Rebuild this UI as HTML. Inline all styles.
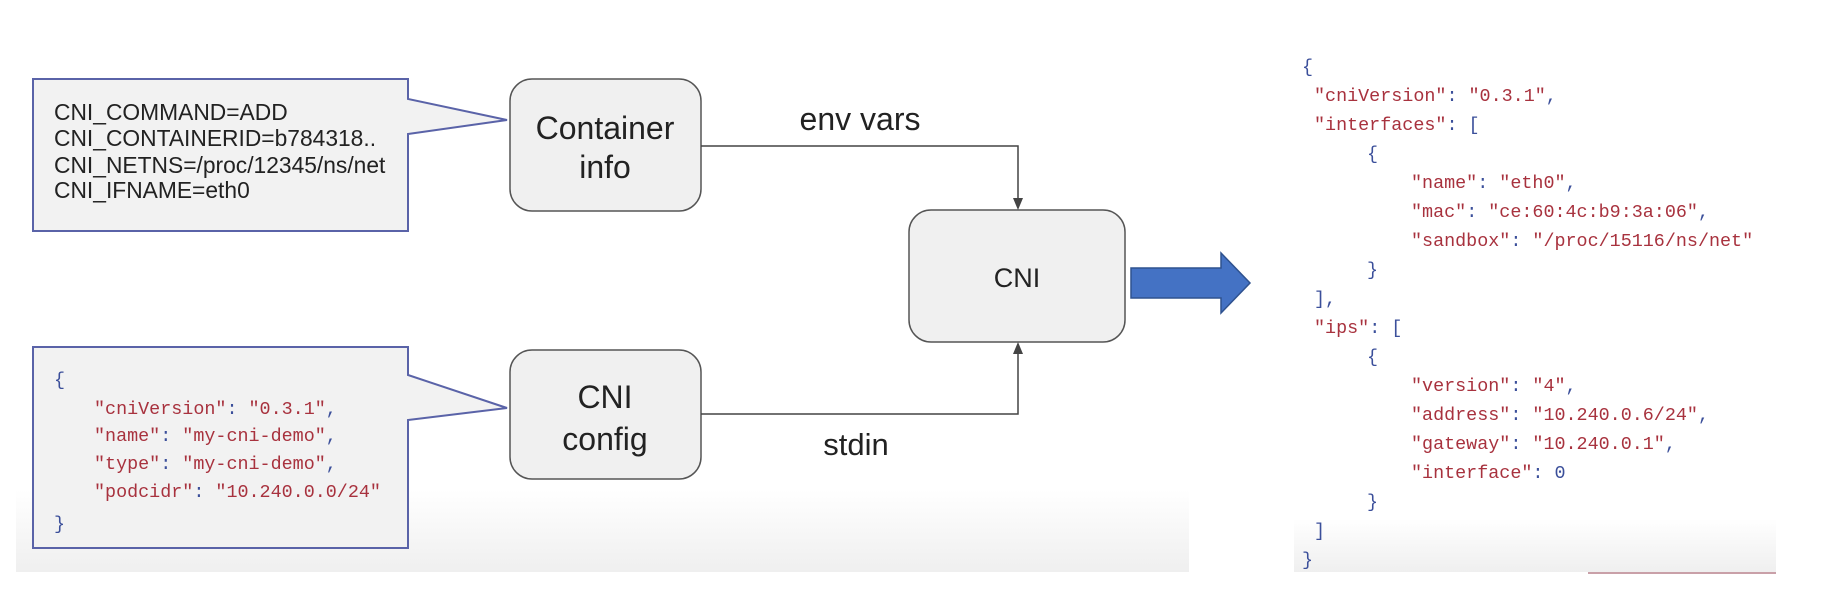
<!DOCTYPE html>
<html><head><meta charset="utf-8"><style>
html,body{margin:0;padding:0;background:#fff;}
svg{display:block;}
.s{font-family:"Liberation Sans",sans-serif;fill:#222;}
.m{font-family:"Liberation Mono",monospace;}
.k{fill:#a8323e;}
.b{fill:#3b4f9a;}
</style></head><body>
<svg width="1828" height="608" viewBox="0 0 1828 608" xmlns="http://www.w3.org/2000/svg">
<defs>
<linearGradient id="g1" x1="0" y1="0" x2="0" y2="1"><stop offset="0" stop-color="#fff"/><stop offset="1" stop-color="#efefef"/></linearGradient>
</defs>
<rect x="16" y="490" width="1173" height="82" fill="url(#g1)"/>
<rect x="1294" y="519" width="482" height="53" fill="url(#g1)"/>
<line x1="1588" y1="573" x2="1776" y2="573" stroke="#c9a0a8" stroke-width="2"/>

<path d="M33,79 H408 V99 L507,120 L408,134 V231 H33 Z" fill="#f2f2f2" stroke="#5a63a8" stroke-width="2"/>
<g class="s" font-size="22.8">
<text x="54" y="120">CNI_COMMAND=ADD</text>
<text x="54" y="146">CNI_CONTAINERID=b784318..</text>
<text x="54" y="173">CNI_NETNS=/proc/12345/ns/net</text>
<text x="54" y="198">CNI_IFNAME=eth0</text>
</g>

<path d="M33,347 H408 V375 L507,408 L408,420 V548 H33 Z" fill="#f2f2f2" stroke="#5a63a8" stroke-width="2"/>
<g class="m" font-size="18.4">
<text x="54" y="385" class="b">{</text>
<text x="94" y="414"><tspan class="k">"cniVersion"</tspan><tspan class="b">: </tspan><tspan class="k">"0.3.1"</tspan><tspan class="b">,</tspan></text>
<text x="94" y="441"><tspan class="k">"name"</tspan><tspan class="b">: </tspan><tspan class="k">"my-cni-demo"</tspan><tspan class="b">,</tspan></text>
<text x="94" y="469"><tspan class="k">"type"</tspan><tspan class="b">: </tspan><tspan class="k">"my-cni-demo"</tspan><tspan class="b">,</tspan></text>
<text x="94" y="497"><tspan class="k">"podcidr"</tspan><tspan class="b">: </tspan><tspan class="k">"10.240.0.0/24"</tspan></text>
<text x="54" y="529" class="b">}</text>
</g>

<rect x="510" y="79" width="191" height="132" rx="22" fill="#f0f0f0" stroke="#555" stroke-width="1.5"/>
<rect x="510" y="350" width="191" height="129" rx="22" fill="#f0f0f0" stroke="#555" stroke-width="1.5"/>
<rect x="909" y="210" width="216" height="132" rx="22" fill="#f0f0f0" stroke="#555" stroke-width="1.5"/>
<g class="s" font-size="32" text-anchor="middle">
<text x="605" y="139">Container</text>
<text x="605" y="178">info</text>
<text x="605" y="408">CNI</text>
<text x="605" y="450">config</text>
<text x="1017" y="287" font-size="27">CNI</text>
<text x="860" y="130">env vars</text>
<text x="856" y="455" font-size="31">stdin</text>
</g>

<path d="M701,146 H1018 V200" fill="none" stroke="#444" stroke-width="1.5"/>
<path d="M1013,198 L1023,198 L1018,210 Z" fill="#444"/>
<path d="M701,414 H1018 V352" fill="none" stroke="#444" stroke-width="1.5"/>
<path d="M1013,354 L1023,354 L1018,342 Z" fill="#444"/>

<path d="M1131,268 H1221 V253 L1250,283 L1221,313 V298 H1131 Z" fill="#4472c4" stroke="#2f528f" stroke-width="1.5"/>

<g class="m" font-size="18.4">
<text x="1302" y="72" class="b">{</text>
<text x="1314" y="101"><tspan class="k">"cniVersion"</tspan><tspan class="b">: </tspan><tspan class="k">"0.3.1"</tspan><tspan class="b">,</tspan></text>
<text x="1314" y="130"><tspan class="k">"interfaces"</tspan><tspan class="b">: [</tspan></text>
<text x="1367" y="159" class="b">{</text>
<text x="1411" y="188"><tspan class="k">"name"</tspan><tspan class="b">: </tspan><tspan class="k">"eth0"</tspan><tspan class="b">,</tspan></text>
<text x="1411" y="217"><tspan class="k">"mac"</tspan><tspan class="b">: </tspan><tspan class="k">"ce:60:4c:b9:3a:06"</tspan><tspan class="b">,</tspan></text>
<text x="1411" y="246"><tspan class="k">"sandbox"</tspan><tspan class="b">: </tspan><tspan class="k">"/proc/15116/ns/net"</tspan></text>
<text x="1367" y="275" class="b">}</text>
<text x="1314" y="304" class="b">],</text>
<text x="1314" y="333"><tspan class="k">"ips"</tspan><tspan class="b">: [</tspan></text>
<text x="1367" y="362" class="b">{</text>
<text x="1411" y="391"><tspan class="k">"version"</tspan><tspan class="b">: </tspan><tspan class="k">"4"</tspan><tspan class="b">,</tspan></text>
<text x="1411" y="420"><tspan class="k">"address"</tspan><tspan class="b">: </tspan><tspan class="k">"10.240.0.6/24"</tspan><tspan class="b">,</tspan></text>
<text x="1411" y="449"><tspan class="k">"gateway"</tspan><tspan class="b">: </tspan><tspan class="k">"10.240.0.1"</tspan><tspan class="b">,</tspan></text>
<text x="1411" y="478"><tspan class="k">"interface"</tspan><tspan class="b">: 0</tspan></text>
<text x="1367" y="507" class="b">}</text>
<text x="1314" y="536" class="b">]</text>
<text x="1302" y="565" class="b">}</text>
</g>
</svg>
</body></html>
